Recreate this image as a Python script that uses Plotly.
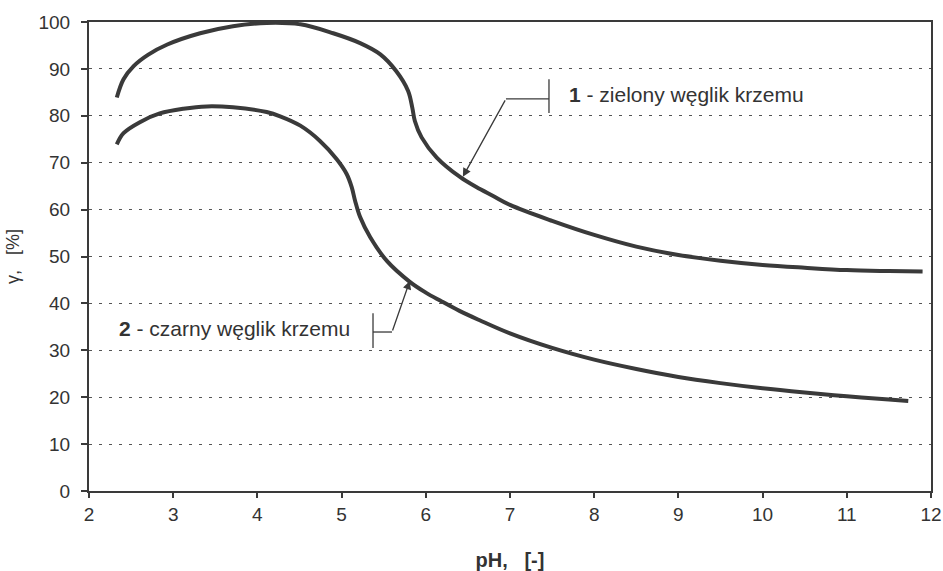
import plotly.graph_objects as go

# Curve 1 - zielony węglik krzemu
ph_1 = [2.33, 2.41, 2.53, 2.7, 2.93, 3.32, 3.71, 4.11, 4.51, 4.9, 5.22, 5.46, 5.65, 5.79, 5.84, 5.87, 5.95, 6.13, 6.41,
        6.6, 6.8, 7.0, 7.5, 8.0, 8.5, 9.0, 9.5, 10.0, 10.5, 11.0, 11.5, 11.9]
gamma_1 = [83.9, 87.8, 90.6, 93.0, 95.2, 97.6, 99.1, 99.8, 99.5, 97.6, 95.5, 93.1, 89.5, 85.3, 81.7, 78.9, 75.4, 71.1, 66.9,
           64.8, 62.9, 61.0, 57.6, 54.6, 52.1, 50.3, 49.1, 48.2, 47.6, 47.1, 46.9, 46.8]

# Curve 2 - czarny węglik krzemu
ph_2 = [2.33, 2.41, 2.61, 2.84, 3.12, 3.4, 3.71, 4.11, 4.27, 4.51, 4.74, 4.94, 5.06, 5.12, 5.16, 5.22, 5.34, 5.54, 5.81,
        6.0, 6.17, 6.4, 6.64, 7.0, 7.5, 8.0, 8.5, 9.0, 9.5, 10.0, 10.5, 11.0, 11.5, 11.73]
gamma_2 = [73.9, 76.3, 78.7, 80.5, 81.5, 82.0, 81.8, 80.8, 79.9, 77.9, 74.7, 70.8, 67.6, 64.8, 61.9, 58.4, 54.1, 49.0, 44.6,
           42.3, 40.6, 38.4, 36.4, 33.6, 30.5, 28.0, 26.0, 24.3, 23.0, 21.9, 21.0, 20.2, 19.5, 19.2]

x_ticks = [2, 3, 4, 5, 6, 7, 8, 9, 10, 11, 12]
y_ticks = [0, 10, 20, 30, 40, 50, 60, 70, 80, 90, 100]

label_1 = "<b>1</b> - zielony węglik krzemu"
label_2 = "<b>2</b> - czarny węglik krzemu"

INK = "#3a3a3a"

fig = go.Figure()
fig.add_trace(go.Scatter(x=ph_1, y=gamma_1, mode="lines",
                         line=dict(color=INK, width=4, shape="spline", smoothing=1.0)))
fig.add_trace(go.Scatter(x=ph_2, y=gamma_2, mode="lines",
                         line=dict(color=INK, width=4, shape="spline", smoothing=1.0)))

# bracket + arrow for label 1
fig.add_shape(type="line", x0=7.463, x1=7.463, y0=80.6, y1=87.8, xref="x", yref="y", line=dict(color=INK, width=1.3))
fig.add_shape(type="line", x0=6.952, x1=7.463, y0=83.6, y1=83.6, xref="x", yref="y", line=dict(color=INK, width=1.3))
fig.add_annotation(x=6.44, y=67.0, ax=6.952, ay=83.6, axref="x", ayref="y", xref="x", yref="y",
                   text="", showarrow=True, arrowhead=2, arrowsize=1.3, arrowwidth=1.3, arrowcolor=INK)
fig.add_annotation(x=7.677, y=84.6, xref="x", yref="y", text=label_1, showarrow=False,
                   xanchor="left", yanchor="middle", font=dict(size=21, color="#333"))

# bracket + arrow for label 2
fig.add_shape(type="line", x0=5.373, x1=5.373, y0=30.5, y1=37.9, xref="x", yref="y", line=dict(color=INK, width=1.3))
fig.add_shape(type="line", x0=5.373, x1=5.599, y0=33.9, y1=33.9, xref="x", yref="y", line=dict(color=INK, width=1.3))
fig.add_annotation(x=5.81, y=44.8, ax=5.599, ay=33.9, axref="x", ayref="y", xref="x", yref="y",
                   text="", showarrow=True, arrowhead=2, arrowsize=1.3, arrowwidth=1.3, arrowcolor=INK)
fig.add_annotation(x=5.124, y=34.7, xref="x", yref="y", text=label_2, showarrow=False,
                   xanchor="right", yanchor="middle", font=dict(size=21, color="#333"))

fig.update_layout(
    width=943, height=571,
    margin=dict(l=89, r=12, t=22, b=80),
    plot_bgcolor="white", paper_bgcolor="white",
    showlegend=False,
    font=dict(family="Arial, Liberation Sans, sans-serif", size=19, color="#333"),
)
fig.update_xaxes(
    range=[2, 12], tickvals=x_ticks, ticktext=[str(v) for v in x_ticks],
    ticks="outside", ticklen=5, tickcolor=INK, tickwidth=1.5,
    showline=True, linecolor=INK, linewidth=2, mirror=True,
    showgrid=False, zeroline=False, automargin=False,
    title=dict(text="<b>pH,\u00a0\u00a0\u00a0[-]</b>", font=dict(size=20, color="#333"), standoff=36),
)
fig.update_yaxes(
    range=[0, 100], tickvals=y_ticks, ticktext=[str(v) for v in y_ticks],
    ticks="outside", ticklen=6, tickcolor=INK, tickwidth=1.5, ticklabelstandoff=7,
    showline=True, linecolor=INK, linewidth=2, mirror=True,
    showgrid=True, gridcolor="#555", gridwidth=1, griddash="3px,7px",
    zeroline=False, automargin=False,
    title=dict(text="γ,\u00a0\u00a0\u00a0[%]", font=dict(size=18, color="#333"), standoff=14),
)

fig.write_html("out.html", config={"displayModeBar": False},
               post_script="document.body.style.margin='0';document.body.style.overflow='hidden';")
